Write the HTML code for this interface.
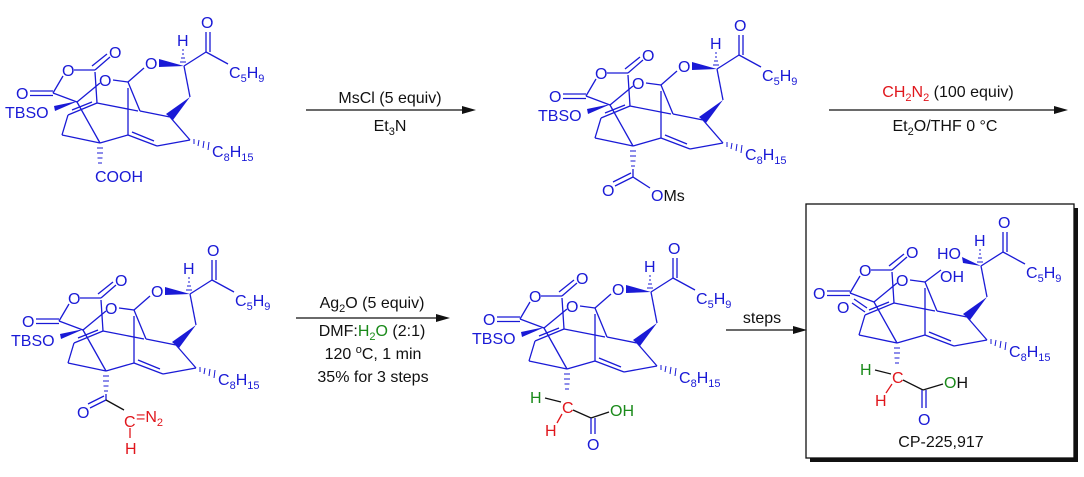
<!DOCTYPE html>
<html><head><meta charset="utf-8"><style>
html,body{margin:0;padding:0;background:#fff;}
svg{display:block;}
text{font-family:"Liberation Sans",Arial,sans-serif;font-size:16px;}
.b{fill:#1a1ad6}.k{fill:#111}.r{fill:#e0161c}.g{fill:#1a8a1a}
.s{font-size:11px}
</style></head><body>
<svg width="1084" height="477" viewBox="0 0 1084 477" xmlns="http://www.w3.org/2000/svg">
<defs>
<g id="core" stroke="#1a1ad6" stroke-width="1.3" fill="none">
 <!-- ketone -->
 <line x1="206" y1="52" x2="206" y2="32"/><line x1="210" y1="52" x2="210" y2="32"/>
 <line x1="206" y1="52" x2="228" y2="64"/>
 <line x1="184" y1="66" x2="206" y2="52"/>
 <!-- H hash -->
 <g stroke-width="1"><line x1="180" y1="62" x2="186" y2="62"/><line x1="181" y1="58" x2="185" y2="58"/><line x1="182" y1="54" x2="184" y2="54"/><line x1="182" y1="50" x2="184" y2="50"/></g>
 <line x1="184" y1="66" x2="190" y2="97"/>
 <polygon points="190,97 166,114 173,120" fill="#1a1ad6" stroke="none"/>
 <line x1="170" y1="117" x2="190" y2="140"/>
 <g stroke-width="1"><line x1="194" y1="139" x2="194" y2="144"/><line x1="199" y1="140" x2="198" y2="146"/><line x1="204" y1="141" x2="203" y2="148"/><line x1="209" y1="142" x2="208" y2="150"/></g>
 <line x1="190" y1="140" x2="157" y2="146"/>
 <line x1="157" y1="146" x2="128" y2="135"/><line x1="154" y1="141" x2="132" y2="132"/>
 <line x1="128" y1="135" x2="100" y2="143"/>
 <line x1="128" y1="88" x2="128" y2="135"/>
 <line x1="128" y1="82" x2="140" y2="111"/>
 <line x1="140" y1="111" x2="170" y2="117"/>
 <line x1="97" y1="103" x2="138" y2="111"/>
 <line x1="113" y1="80" x2="128" y2="82"/>
 <!-- left part -->
 <line x1="100" y1="143" x2="62" y2="135"/>
 <line x1="62" y1="135" x2="68" y2="115"/>
 <line x1="68" y1="115" x2="97" y2="103"/><line x1="72" y1="110" x2="92" y2="102"/>
 <line x1="77" y1="102" x2="100" y2="143"/>
 <line x1="77" y1="102" x2="100" y2="83"/>
 <line x1="95" y1="72" x2="97" y2="103"/>
 <!-- anhydride -->
 <line x1="30" y1="91" x2="53" y2="91"/><line x1="30" y1="95.5" x2="53" y2="95.5"/>
 <line x1="53" y1="93" x2="63" y2="76"/>
 <line x1="53" y1="93" x2="77" y2="102"/>
 <line x1="74" y1="70" x2="95" y2="70"/>
 <line x1="95" y1="70" x2="110" y2="57"/><line x1="92" y1="66" x2="107" y2="54"/>
</g>
<g id="ring" stroke="#1a1ad6" stroke-width="1.3" fill="none">
 <line x1="144" y1="68" x2="128" y2="82"/>
 <polygon points="159,59 159,67 184,66" fill="#1a1ad6" stroke="none"/>
</g>
<g id="tbs"><polygon points="54,106 55,111 78,101" fill="#1a1ad6"/></g>
<g id="hashq" stroke="#1a1ad6" stroke-width="1"><line x1="97" y1="148" x2="103" y2="148"/><line x1="97" y1="153" x2="103" y2="153"/><line x1="97.5" y1="158" x2="102.5" y2="158"/><line x1="98" y1="163" x2="102" y2="163"/></g>
</defs>

<!-- ===== Molecule 1 ===== -->
<g transform="translate(0,0)">
 <use href="#core"/><use href="#ring"/><use href="#tbs"/><use href="#hashq"/>
 <text class="b" x="201" y="28">O</text>
 <text class="b" x="177" y="46">H</text>
 <text class="b" x="145" y="69">O</text>
 <text class="b" x="229" y="78">C<tspan class="s" dy="4">5</tspan><tspan dy="-4">H</tspan><tspan class="s" dy="4">9</tspan></text>
 <text class="b" x="109" y="58">O</text>
 <text class="b" x="62" y="76">O</text>
 <text class="b" x="99" y="86">O</text>
 <text class="b" x="16" y="99">O</text>
 <text class="b" x="5" y="118">TBSO</text>
 <text class="b" x="212" y="157">C<tspan class="s" dy="4">8</tspan><tspan dy="-4">H</tspan><tspan class="s" dy="4">15</tspan></text>
 <text class="b" x="95" y="182">COOH</text>
</g>

<!-- ===== Molecule 2 ===== -->
<g transform="translate(533,3)">
 <use href="#core"/><use href="#ring"/><use href="#tbs"/><use href="#hashq"/>
 <text class="b" x="201" y="28">O</text>
 <text class="b" x="177" y="46">H</text>
 <text class="b" x="145" y="69">O</text>
 <text class="b" x="229" y="78">C<tspan class="s" dy="4">5</tspan><tspan dy="-4">H</tspan><tspan class="s" dy="4">9</tspan></text>
 <text class="b" x="109" y="58">O</text>
 <text class="b" x="62" y="76">O</text>
 <text class="b" x="99" y="86">O</text>
 <text class="b" x="16" y="99">O</text>
 <text class="b" x="5" y="118">TBSO</text>
 <text class="b" x="212" y="157">C<tspan class="s" dy="4">8</tspan><tspan dy="-4">H</tspan><tspan class="s" dy="4">15</tspan></text>
 <g stroke="#1a1ad6" stroke-width="1.3"><line x1="100" y1="166" x2="100" y2="174"/><line x1="100" y1="174" x2="82" y2="183"/><line x1="98" y1="170" x2="80" y2="179"/><line x1="100" y1="174" x2="117" y2="185"/></g>
 <text class="b" x="69" y="193">O</text>
 <text class="b" x="118" y="198">O<tspan class="k">Ms</tspan></text>
</g>

<!-- ===== Molecule 3 ===== -->
<g transform="translate(6,228)">
 <use href="#core"/><use href="#ring"/><use href="#tbs"/><use href="#hashq"/>
 <text class="b" x="201" y="28">O</text>
 <text class="b" x="177" y="46">H</text>
 <text class="b" x="145" y="69">O</text>
 <text class="b" x="229" y="78">C<tspan class="s" dy="4">5</tspan><tspan dy="-4">H</tspan><tspan class="s" dy="4">9</tspan></text>
 <text class="b" x="109" y="58">O</text>
 <text class="b" x="62" y="76">O</text>
 <text class="b" x="99" y="86">O</text>
 <text class="b" x="16" y="99">O</text>
 <text class="b" x="5" y="118">TBSO</text>
 <text class="b" x="212" y="157">C<tspan class="s" dy="4">8</tspan><tspan dy="-4">H</tspan><tspan class="s" dy="4">15</tspan></text>
 <g stroke-width="1.3"><line x1="100" y1="166" x2="100" y2="172" stroke="#1a1ad6"/><line x1="100" y1="172" x2="84" y2="180" stroke="#1a1ad6"/><line x1="98" y1="168" x2="82" y2="176" stroke="#1a1ad6"/><line x1="100" y1="172" x2="118" y2="182" stroke="#111"/><line x1="124" y1="200" x2="124" y2="210" stroke="#e0161c"/></g>
 <text class="b" x="71" y="190">O</text>
 <text class="r" x="118" y="199">C</text>
 <text class="r" x="130" y="194">=N<tspan class="s" dy="4">2</tspan></text>
 <text class="r" x="119" y="226">H</text>
</g>

<!-- ===== Molecule 4 ===== -->
<g transform="translate(467,226)">
 <use href="#core"/><use href="#ring"/><use href="#tbs"/><use href="#hashq"/>
 <text class="b" x="201" y="28">O</text>
 <text class="b" x="177" y="46">H</text>
 <text class="b" x="145" y="69">O</text>
 <text class="b" x="229" y="78">C<tspan class="s" dy="4">5</tspan><tspan dy="-4">H</tspan><tspan class="s" dy="4">9</tspan></text>
 <text class="b" x="109" y="58">O</text>
 <text class="b" x="62" y="76">O</text>
 <text class="b" x="99" y="86">O</text>
 <text class="b" x="16" y="99">O</text>
 <text class="b" x="5" y="118">TBSO</text>
 <text class="b" x="212" y="157">C<tspan class="s" dy="4">8</tspan><tspan dy="-4">H</tspan><tspan class="s" dy="4">15</tspan></text>
 <g stroke-width="1.3"><line x1="78" y1="172" x2="94" y2="176" stroke="#111"/><line x1="90" y1="197" x2="95" y2="188" stroke="#e0161c"/><line x1="106" y1="184" x2="124" y2="192" stroke="#111"/><line x1="124" y1="192" x2="142" y2="186" stroke="#111"/><line x1="124" y1="192" x2="124" y2="208" stroke="#1a1ad6"/><line x1="128" y1="192" x2="128" y2="208" stroke="#1a1ad6"/></g>
 <text class="g" x="63" y="177">H</text>
 <text class="r" x="95" y="187">C</text>
 <text class="r" x="78" y="210">H</text>
 <text class="g" x="143" y="190">OH</text>
 <text class="b" x="120" y="224">O</text>
</g>

<!-- ===== Molecule 5 (boxed) ===== -->
<rect x="810" y="208" width="268" height="254" fill="#111"/>
<rect x="806" y="204" width="268" height="254" fill="#fff" stroke="#111" stroke-width="1.3"/>
<g transform="translate(797,200)">
 <use href="#core"/><use href="#hashq"/>
 <g stroke="#1a1ad6" stroke-width="1.3"><line x1="144" y1="70" x2="128" y2="82"/><line x1="55" y1="103" x2="68" y2="112"/><line x1="57" y1="99" x2="70" y2="108"/></g>
 <polygon points="165,57 166,63 184,66" fill="#1a1ad6"/>
 <text class="b" x="201" y="28">O</text>
 <text class="b" x="177" y="46">H</text>
 <text class="b" x="140" y="59">HO</text>
 <text class="b" x="143" y="82">OH</text>
 <text class="b" x="229" y="78">C<tspan class="s" dy="4">5</tspan><tspan dy="-4">H</tspan><tspan class="s" dy="4">9</tspan></text>
 <text class="b" x="109" y="58">O</text>
 <text class="b" x="62" y="76">O</text>
 <text class="b" x="99" y="86">O</text>
 <text class="b" x="16" y="99">O</text>
 <text class="b" x="40" y="113">O</text>
 <text class="b" x="212" y="157">C<tspan class="s" dy="4">8</tspan><tspan dy="-4">H</tspan><tspan class="s" dy="4">15</tspan></text>
 <g stroke-width="1.3"><line x1="78" y1="170" x2="94" y2="174" stroke="#111"/><line x1="89" y1="193" x2="95" y2="184" stroke="#e0161c"/><line x1="106" y1="180" x2="126" y2="190" stroke="#111"/><line x1="126" y1="190" x2="146" y2="184" stroke="#111"/><line x1="125" y1="190" x2="125" y2="208" stroke="#1a1ad6"/><line x1="129" y1="190" x2="129" y2="208" stroke="#1a1ad6"/></g>
 <text class="g" x="63" y="175">H</text>
 <text class="r" x="95" y="183">C</text>
 <text class="r" x="78" y="206">H</text>
 <text x="147" y="188"><tspan class="g">O</tspan><tspan class="k">H</tspan></text>
 <text class="b" x="121" y="225">O</text>
</g>
<text class="k" x="941" y="447" text-anchor="middle">CP-225,917</text>

<!-- ===== Arrows ===== -->
<g stroke="#111" stroke-width="1.3">
 <line x1="306" y1="110" x2="466" y2="110"/>
 <line x1="829" y1="110" x2="1058" y2="110"/>
 <line x1="296" y1="318" x2="440" y2="318"/>
 <line x1="726" y1="330" x2="797" y2="330"/>
</g>
<g fill="#111">
 <polygon points="476,110 462,106 462,114"/>
 <polygon points="1068,110 1054,106 1054,114"/>
 <polygon points="450,318 436,314 436,322"/>
 <polygon points="807,330 793,326 793,334"/>
</g>
<text class="k" x="390" y="103" text-anchor="middle">MsCl (5 equiv)</text>
<text class="k" x="390" y="131" text-anchor="middle">Et<tspan class="s" dy="4">3</tspan><tspan dy="-4">N</tspan></text>
<text x="948" y="97" text-anchor="middle"><tspan class="r">CH</tspan><tspan class="r s" dy="4">2</tspan><tspan class="r" dy="-4">N</tspan><tspan class="r s" dy="4">2</tspan><tspan class="k" dy="-4"> (100 equiv)</tspan></text>
<text class="k" x="945" y="131" text-anchor="middle">Et<tspan class="s" dy="4">2</tspan><tspan dy="-4">O/THF 0 °C</tspan></text>
<text class="k" x="372" y="308" text-anchor="middle">Ag<tspan class="s" dy="4">2</tspan><tspan dy="-4">O (5 equiv)</tspan></text>
<text class="k" x="372" y="336" text-anchor="middle">DMF:<tspan class="g">H</tspan><tspan class="g s" dy="4">2</tspan><tspan class="g" dy="-4">O</tspan> (2:1)</text>
<text class="k" x="373" y="359" text-anchor="middle">120 <tspan class="s" dy="-6">o</tspan><tspan dy="6">C, 1 min</tspan></text>
<text class="k" x="373" y="382" text-anchor="middle">35% for 3 steps</text>
<text class="k" x="762" y="323" text-anchor="middle">steps</text>
</svg>
</body></html>
